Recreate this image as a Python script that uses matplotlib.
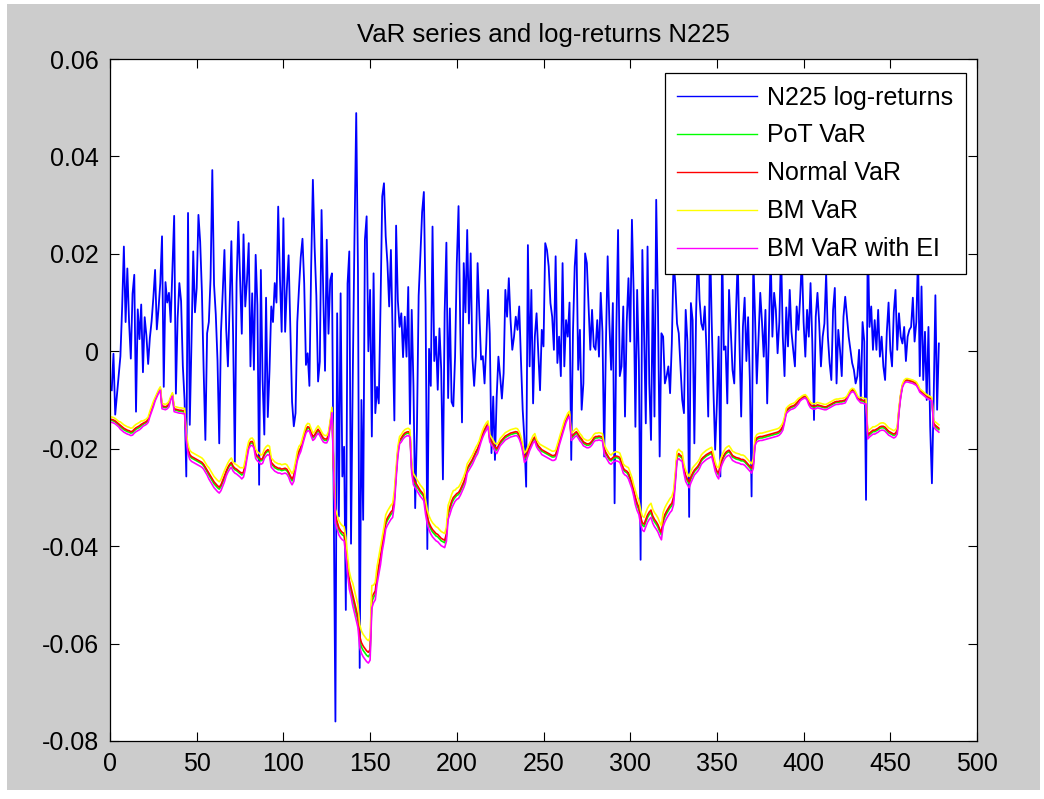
import numpy as np
import matplotlib
matplotlib.use("Agg")
import matplotlib.pyplot as plt
from matplotlib.patches import Rectangle

# N225 daily log-returns, in basis points (1e-4)
ret_bp = [
    -80, -5, -130, -90, -50, -10, 90, 215, 60, 170,
    60, -15, 118, 157, -124, 86, 25, 96, -43, 70,
    32, -26, 28, 62, 110, 167, 45, 88, 140, 236,
    -73, 142, 100, 120, 60, 171, 278, -87, 68, 140,
    103, -30, -100, -257, 284, -151, 20, 205, 80, 130,
    280, 225, 122, -38, -182, 37, 60, 150, 372, 137,
    76, -19, -189, 40, 120, 208, 46, -31, 95, 226,
    30, -227, 140, 266, 150, 36, 240, 92, 146, 222,
    -31, 119, -38, 198, 95, -274, 167, -59, -171, 110,
    -135, -38, 92, 60, 140, 100, 297, 150, 40, 273,
    40, 130, 197, 42, -104, -154, -127, 60, 130, 193,
    231, 139, -28, -4, -71, 172, 352, 214, 114, -62,
    -21, 290, 116, -40, 229, 36, 146, 160, -298, -760,
    78, -339, 119, -257, -196, -531, 139, 205, -395, -52,
    235, 489, 166, -650, -100, -346, 229, 277, 0, 126,
    -175, 160, -127, -73, -107, 92, 318, 345, 236, 181,
    92, 208, 36, -142, 258, 104, 50, 78, -12, 71,
    -11, 132, -149, 85, -70, -322, -163, 114, 197, 286,
    327, 97, -406, 5, -71, 256, -20, 30, -79, 47,
    -37, -263, 80, 223, -96, 88, -104, -113, -12, 181,
    298, 47, -146, 181, 80, 249, 57, 201, -12, -71,
    -10, 181, 78, -17, -10, -66, 14, 126, 36, -209,
    -93, -223, -93, -11, -51, -97, -45, 126, 71, 150,
    64, 3, 30, 71, 44, 92, -18, -120, -182, -278,
    218, -31, 126, -107, 30, 78, -4, -80, 44, 10,
    222, 208, 174, 99, 71, 3, 195, -24, 30, -51,
    181, -31, 64, 30, 100, -223, 40, 174, 229, -38,
    44, -120, -66, 201, 181, 92, 3, 85, 10, 3,
    64, -11, 120, 40, -216, 16, 195, 57, -38, 99,
    -312, 44, 249, -51, -31, 92, -134, 60, 150, 20,
    270, 120, -155, 126, -20, -428, 208, 37, -148, 215,
    -66, -182, 126, -134, 311, 92, -216, 37, 30, -66,
    -51, -31, -86, 16, 185, 140, 57, 37, -31, -100,
    -127, 85, 20, -340, 99, 64, -189, 78, 210, 106,
    57, 44, 92, 3, -134, 240, 60, -80, -202, -107,
    30, -257, 220, 3, 10, -107, 126, 44, -38, -66,
    78, 190, 20, -134, 50, 110, -20, 70, -60, -298,
    190, 71, -66, 30, 120, 60, -11, 85, -107, 40,
    200, 30, 120, 85, -4, 60, 210, 30, -51, 90,
    10, 126, 40, 3, -31, 92, 44, 110, 190, 60,
    -11, 85, 30, 140, 20, -141, 71, 120, 57, -31,
    30, 57, 160, 30, -24, -59, 85, 130, -66, 44,
    3, -51, 71, 112, 71, 30, 3, -24, -38, -66,
    -51, 3, -100, 60, 20, -305, 240, 50, 92, 3,
    64, 3, 85, -11, 30, -31, -59, 40, 100, 3,
    -31, 80, 126, 3, 78, 30, 16, 50, -20, 30,
    44, 50, 110, 20, 60, 200, -51, 133, -59, 40,
    -100, 50, -155, -271, -100, 115, -120, 16,
]

# VaR estimates, basis points
var_normal_bp = [
    -140, -141, -143, -146, -149, -152, -155, -158, -160, -162,
    -163, -165, -164, -160, -157, -155, -153, -150, -148, -146,
    -144, -140, -128, -118, -108, -98, -90, -82, -76, -112,
    -113, -114, -112, -108, -96, -88, -118, -119, -120, -121,
    -121, -122, -122, -175, -200, -212, -216, -218, -220, -222,
    -224, -226, -228, -232, -238, -244, -250, -256, -262, -268,
    -272, -276, -279, -274, -265, -256, -246, -238, -232, -228,
    -236, -240, -242, -245, -248, -250, -248, -232, -210, -192,
    -186, -185, -190, -210, -215, -218, -222, -220, -210, -205,
    -202, -204, -228, -232, -236, -238, -240, -240, -242, -241,
    -240, -242, -248, -256, -262, -255, -235, -215, -204, -198,
    -185, -172, -160, -155, -156, -166, -175, -172, -165, -160,
    -165, -172, -178, -180, -180, -172, -148, -120, -240, -338,
    -350, -362, -368, -372, -374, -400, -438, -470, -485, -500,
    -515, -530, -545, -585, -598, -605, -610, -615, -618, -612,
    -505, -498, -492, -460, -440, -420, -395, -375, -350, -342,
    -336, -330, -326, -300, -250, -205, -182, -178, -172, -168,
    -166, -165, -168, -240, -262, -268, -274, -280, -286, -290,
    -295, -320, -340, -352, -360, -366, -370, -374, -376, -380,
    -384, -386, -388, -375, -330, -320, -308, -300, -296, -292,
    -290, -284, -276, -268, -258, -240, -234, -228, -222, -214,
    -206, -200, -190, -178, -168, -160, -154, -148, -178, -184,
    -190, -196, -200, -194, -186, -182, -178, -174, -172, -170,
    -168, -167, -166, -165, -166, -172, -182, -198, -218, -214,
    -205, -196, -188, -180, -176, -188, -194, -198, -202, -204,
    -206, -208, -210, -212, -214, -214, -212, -200, -186, -174,
    -162, -150, -140, -132, -128, -175, -172, -168, -165, -170,
    -176, -180, -186, -188, -190, -190, -188, -184, -178, -175,
    -175, -174, -175, -176, -200, -208, -214, -220, -222, -218,
    -216, -215, -216, -218, -228, -240, -244, -246, -250, -260,
    -270, -285, -300, -312, -320, -340, -352, -355, -345, -336,
    -330, -326, -338, -345, -350, -356, -365, -372, -345, -335,
    -328, -322, -316, -312, -300, -260, -215, -210, -214, -216,
    -240, -255, -262, -268, -258, -250, -244, -240, -236, -230,
    -222, -218, -215, -212, -210, -208, -206, -220, -236, -246,
    -250, -232, -222, -214, -208, -205, -203, -208, -214, -216,
    -218, -219, -220, -222, -222, -224, -228, -232, -236, -240,
    -230, -185, -178, -176, -175, -175, -174, -173, -172, -171,
    -170, -169, -168, -167, -166, -164, -160, -154, -140, -122,
    -118, -115, -113, -112, -110, -106, -102, -98, -95, -93,
    -92, -96, -104, -110, -112, -113, -112, -110, -111, -112,
    -113, -114, -114, -112, -110, -108, -106, -104, -103, -103,
    -102, -102, -101, -100, -95, -88, -82, -79, -80, -86,
    -94, -98, -100, -100, -102, -102, -172, -168, -165, -162,
    -162, -160, -158, -155, -154, -154, -156, -160, -164, -166,
    -168, -170, -168, -162, -120, -90, -70, -62, -59, -59,
    -60, -61, -62, -64, -66, -72, -80, -83, -86, -89,
    -92, -94, -96, -98, -148, -152, -155, -158,
]

var_pot_bp = [
    -142, -143, -145, -148, -151, -155, -158, -161, -163, -165,
    -166, -168, -167, -163, -160, -158, -156, -153, -150, -148,
    -146, -142, -130, -120, -110, -99, -91, -83, -77, -114,
    -115, -116, -114, -110, -97, -89, -120, -121, -122, -123,
    -123, -124, -124, -178, -203, -215, -219, -221, -223, -225,
    -227, -229, -231, -235, -241, -247, -254, -260, -266, -272,
    -276, -280, -283, -278, -269, -260, -249, -241, -235, -231,
    -239, -243, -245, -248, -251, -254, -251, -235, -213, -195,
    -189, -188, -193, -213, -218, -221, -225, -223, -213, -208,
    -205, -207, -231, -235, -239, -241, -243, -243, -245, -244,
    -243, -245, -251, -260, -266, -259, -238, -218, -207, -201,
    -188, -175, -163, -158, -159, -169, -178, -175, -168, -163,
    -168, -175, -181, -183, -183, -175, -150, -122, -243, -343,
    -355, -367, -373, -377, -379, -407, -445, -477, -492, -509,
    -524, -539, -554, -594, -607, -614, -619, -624, -627, -621,
    -514, -505, -499, -467, -447, -427, -400, -380, -355, -347,
    -341, -335, -331, -305, -254, -208, -185, -181, -175, -171,
    -169, -168, -171, -243, -266, -272, -278, -284, -290, -294,
    -299, -325, -345, -357, -365, -371, -375, -379, -381, -385,
    -389, -391, -393, -380, -335, -325, -313, -305, -300, -296,
    -294, -288, -280, -272, -262, -243, -237, -231, -225, -217,
    -209, -203, -193, -181, -171, -163, -157, -150, -181, -187,
    -193, -199, -203, -197, -189, -185, -181, -177, -175, -173,
    -171, -170, -169, -168, -169, -175, -185, -201, -221, -217,
    -208, -199, -191, -183, -179, -191, -197, -201, -205, -207,
    -209, -211, -213, -215, -217, -217, -215, -203, -189, -177,
    -165, -153, -142, -134, -130, -178, -175, -171, -168, -173,
    -179, -183, -189, -191, -193, -193, -191, -187, -181, -178,
    -178, -177, -178, -179, -203, -211, -217, -223, -225, -221,
    -219, -218, -219, -221, -231, -243, -247, -249, -254, -264,
    -274, -289, -305, -317, -325, -345, -357, -360, -350, -341,
    -335, -331, -343, -350, -355, -361, -370, -377, -350, -340,
    -333, -327, -321, -317, -305, -264, -218, -213, -217, -219,
    -243, -259, -266, -272, -262, -254, -247, -243, -239, -233,
    -225, -221, -218, -215, -213, -211, -209, -223, -239, -249,
    -254, -235, -225, -217, -211, -208, -206, -211, -217, -219,
    -221, -222, -223, -225, -225, -227, -231, -235, -239, -243,
    -233, -188, -181, -179, -178, -178, -177, -176, -175, -174,
    -173, -172, -171, -170, -169, -167, -163, -157, -142, -124,
    -120, -117, -115, -114, -112, -108, -104, -99, -96, -94,
    -93, -97, -106, -112, -114, -115, -114, -112, -113, -114,
    -115, -116, -116, -114, -112, -110, -108, -106, -105, -105,
    -104, -104, -103, -102, -96, -89, -83, -80, -81, -87,
    -95, -99, -102, -102, -104, -104, -175, -171, -168, -165,
    -165, -163, -161, -158, -157, -157, -159, -163, -167, -169,
    -171, -173, -171, -165, -122, -91, -71, -63, -60, -60,
    -61, -62, -63, -65, -67, -73, -81, -84, -87, -90,
    -93, -95, -97, -99, -150, -155, -158, -161,
]

var_bm_bp = [
    -135, -136, -138, -141, -144, -145, -148, -151, -153, -155,
    -156, -158, -157, -153, -150, -148, -146, -143, -143, -141,
    -139, -135, -123, -113, -103, -95, -87, -79, -73, -107,
    -108, -109, -107, -103, -93, -85, -113, -114, -115, -116,
    -116, -117, -117, -168, -191, -203, -207, -209, -211, -213,
    -215, -217, -219, -223, -229, -235, -239, -245, -251, -257,
    -261, -265, -268, -263, -254, -245, -237, -229, -223, -219,
    -227, -231, -233, -236, -239, -239, -239, -223, -201, -185,
    -179, -178, -183, -201, -206, -209, -213, -211, -201, -196,
    -193, -195, -219, -223, -227, -229, -231, -231, -233, -232,
    -231, -233, -239, -245, -251, -244, -226, -206, -195, -191,
    -178, -165, -153, -148, -149, -159, -168, -165, -158, -153,
    -158, -165, -171, -173, -173, -165, -143, -115, -231, -324,
    -336, -348, -354, -358, -360, -382, -420, -452, -467, -476,
    -491, -506, -521, -561, -574, -581, -586, -591, -594, -588,
    -481, -480, -474, -442, -422, -402, -381, -361, -336, -328,
    -322, -316, -312, -286, -239, -196, -175, -171, -165, -161,
    -159, -158, -161, -231, -251, -257, -263, -269, -275, -279,
    -284, -306, -326, -338, -346, -352, -356, -360, -362, -366,
    -370, -372, -374, -361, -316, -306, -294, -286, -285, -281,
    -279, -273, -265, -257, -247, -231, -225, -219, -213, -205,
    -197, -191, -183, -171, -161, -153, -147, -143, -171, -177,
    -183, -189, -191, -187, -179, -175, -171, -167, -165, -163,
    -161, -160, -159, -158, -159, -165, -175, -191, -209, -205,
    -196, -189, -181, -173, -169, -181, -187, -191, -193, -195,
    -197, -199, -201, -203, -205, -205, -203, -191, -179, -167,
    -155, -143, -135, -127, -123, -168, -165, -161, -158, -163,
    -169, -173, -179, -181, -183, -183, -181, -177, -171, -168,
    -168, -167, -168, -169, -191, -199, -205, -211, -213, -209,
    -207, -206, -207, -209, -219, -231, -235, -237, -239, -249,
    -259, -274, -286, -298, -306, -326, -338, -341, -331, -322,
    -316, -312, -324, -331, -336, -342, -351, -358, -331, -321,
    -314, -308, -302, -298, -286, -249, -206, -201, -205, -207,
    -231, -244, -251, -257, -247, -239, -235, -231, -227, -221,
    -213, -209, -206, -203, -201, -199, -197, -211, -227, -237,
    -239, -223, -213, -205, -199, -196, -194, -199, -205, -207,
    -209, -210, -211, -213, -213, -215, -219, -223, -227, -231,
    -221, -178, -171, -169, -168, -168, -167, -166, -165, -164,
    -163, -162, -161, -160, -159, -157, -153, -147, -135, -117,
    -113, -110, -108, -107, -105, -101, -97, -95, -92, -90,
    -89, -93, -99, -105, -107, -108, -107, -105, -106, -107,
    -108, -109, -109, -107, -105, -103, -101, -99, -98, -98,
    -97, -97, -96, -95, -92, -85, -79, -76, -77, -83,
    -91, -95, -95, -95, -97, -97, -165, -161, -158, -155,
    -155, -153, -151, -148, -147, -147, -149, -153, -157, -159,
    -161, -163, -161, -155, -115, -87, -67, -59, -56, -56,
    -57, -58, -59, -61, -63, -69, -77, -80, -83, -86,
    -89, -91, -93, -95, -143, -145, -148, -151,
]

var_bm_ei_bp = [
    -146, -147, -149, -152, -155, -160, -163, -166, -168, -170,
    -171, -173, -172, -168, -165, -163, -161, -158, -154, -152,
    -150, -146, -134, -124, -114, -102, -94, -86, -80, -118,
    -119, -120, -118, -114, -100, -92, -124, -125, -126, -127,
    -127, -128, -128, -183, -210, -222, -226, -228, -230, -232,
    -234, -236, -238, -242, -248, -254, -262, -268, -274, -280,
    -284, -288, -291, -286, -277, -268, -256, -248, -242, -238,
    -246, -250, -252, -255, -258, -262, -258, -242, -220, -200,
    -194, -193, -198, -220, -225, -228, -232, -230, -220, -215,
    -212, -214, -238, -242, -246, -248, -250, -250, -252, -251,
    -250, -252, -258, -268, -274, -267, -245, -225, -214, -206,
    -193, -180, -168, -163, -164, -174, -183, -180, -173, -168,
    -173, -180, -186, -188, -188, -180, -154, -126, -250, -353,
    -365, -377, -383, -387, -389, -418, -456, -488, -503, -522,
    -537, -552, -567, -607, -620, -627, -632, -637, -640, -634,
    -527, -516, -510, -478, -458, -438, -410, -390, -365, -357,
    -351, -345, -341, -315, -262, -215, -190, -186, -180, -176,
    -174, -173, -176, -250, -274, -280, -286, -292, -298, -302,
    -307, -335, -355, -367, -375, -381, -385, -389, -391, -395,
    -399, -401, -403, -390, -345, -335, -323, -315, -308, -304,
    -302, -296, -288, -280, -270, -250, -244, -238, -232, -224,
    -216, -210, -198, -186, -176, -168, -162, -154, -186, -192,
    -198, -204, -210, -202, -194, -190, -186, -182, -180, -178,
    -176, -175, -174, -173, -174, -180, -190, -206, -228, -224,
    -215, -204, -196, -188, -184, -196, -202, -206, -212, -214,
    -216, -218, -220, -222, -224, -224, -222, -210, -194, -182,
    -170, -158, -146, -138, -134, -183, -180, -176, -173, -178,
    -184, -188, -194, -196, -198, -198, -196, -192, -186, -183,
    -183, -182, -183, -184, -210, -218, -224, -230, -232, -228,
    -226, -225, -226, -228, -238, -250, -254, -256, -262, -272,
    -282, -297, -315, -327, -335, -355, -367, -370, -360, -351,
    -345, -341, -353, -360, -365, -371, -380, -387, -360, -350,
    -343, -337, -331, -327, -315, -272, -225, -220, -224, -226,
    -250, -267, -274, -280, -270, -262, -254, -250, -246, -240,
    -232, -228, -225, -222, -220, -218, -216, -230, -246, -256,
    -262, -242, -232, -224, -218, -215, -213, -218, -224, -226,
    -228, -229, -230, -232, -232, -234, -238, -242, -246, -250,
    -240, -193, -186, -184, -183, -183, -182, -181, -180, -179,
    -178, -177, -176, -175, -174, -172, -168, -162, -146, -128,
    -124, -121, -119, -118, -116, -112, -108, -102, -99, -97,
    -96, -100, -110, -116, -118, -119, -118, -116, -117, -118,
    -119, -120, -120, -118, -116, -114, -112, -110, -109, -109,
    -108, -108, -107, -106, -99, -92, -86, -83, -84, -90,
    -98, -102, -106, -106, -108, -108, -180, -176, -173, -170,
    -170, -168, -166, -163, -162, -162, -164, -168, -172, -174,
    -176, -178, -176, -170, -126, -94, -74, -66, -63, -63,
    -64, -65, -66, -68, -70, -76, -84, -87, -90, -93,
    -96, -98, -100, -102, -154, -160, -163, -166,
]

series_labels = ['N225 log-returns', 'PoT VaR', 'Normal VaR', 'BM VaR', 'BM VaR with EI']
series_colors = ['#0000ff', '#00ff00', '#ff0000', '#ffff00', '#ff00ff']

xticks = [0, 50, 100, 150, 200, 250, 300, 350, 400, 450, 500]
yticks = [-0.08, -0.06, -0.04, -0.02, 0, 0.02, 0.04, 0.06]
ytick_labels = ['-0.08', '-0.06', '-0.04', '-0.02', '0', '0.02', '0.04', '0.06']

plt.rcParams['font.family'] = ['Liberation Sans', 'DejaVu Sans']
plt.rcParams['axes.unicode_minus'] = False

W, H = 1044, 799
fig = plt.figure(figsize=(W / 100, H / 100), dpi=100)
fig.patch.set_facecolor('white')
# grey matlab window area
fig.add_artist(Rectangle((7 / W, 1 - 790 / H), (1040 - 7) / W, (790 - 4) / H,
                         transform=fig.transFigure, facecolor='#cccccc',
                         edgecolor='none', zorder=-10))

ax = fig.add_axes([110 / W, 1 - 741 / H, (977 - 110) / W, (741 - 59) / H])
ax.set_facecolor('white')

all_series = [ret_bp, var_pot_bp, var_normal_bp, var_bm_bp, var_bm_ei_bp]
widths = [1.3, 1.2, 1.2, 1.2, 1.2]
for vals, lab, col, lw in zip(all_series, series_labels, series_colors, widths):
    y = np.array(vals) / 1e4
    x = np.arange(1, len(y) + 1)
    ax.plot(x, y, color=col, lw=lw, label=lab)

ax.set_xlim(0, 500)
ax.set_ylim(-0.08, 0.06)
ax.set_xticks(xticks)
ax.set_yticks(yticks)
ax.set_yticklabels(ytick_labels)
ax.tick_params(direction='in', length=6.5, width=0.8, top=True, right=True,
               labelsize=18, pad=8, colors='black')
for sp in ax.spines.values():
    sp.set_linewidth(0.9)
    sp.set_color('black')

ax.set_title('VaR series and log-returns N225', fontsize=18.5, pad=12)

leg = ax.legend(loc='upper right', bbox_to_anchor=((966 - 110) / 867, (741 - 73) / 682),
                borderaxespad=0, fontsize=18, fancybox=False, framealpha=1,
                edgecolor='black', handlelength=3.2, handletextpad=0.4,
                labelspacing=0.56, borderpad=0.5)
leg.get_frame().set_linewidth(0.9)
for h in leg.get_lines():
    h.set_linewidth(1.0)

fig.savefig('out.png', dpi=100, facecolor=fig.get_facecolor())
